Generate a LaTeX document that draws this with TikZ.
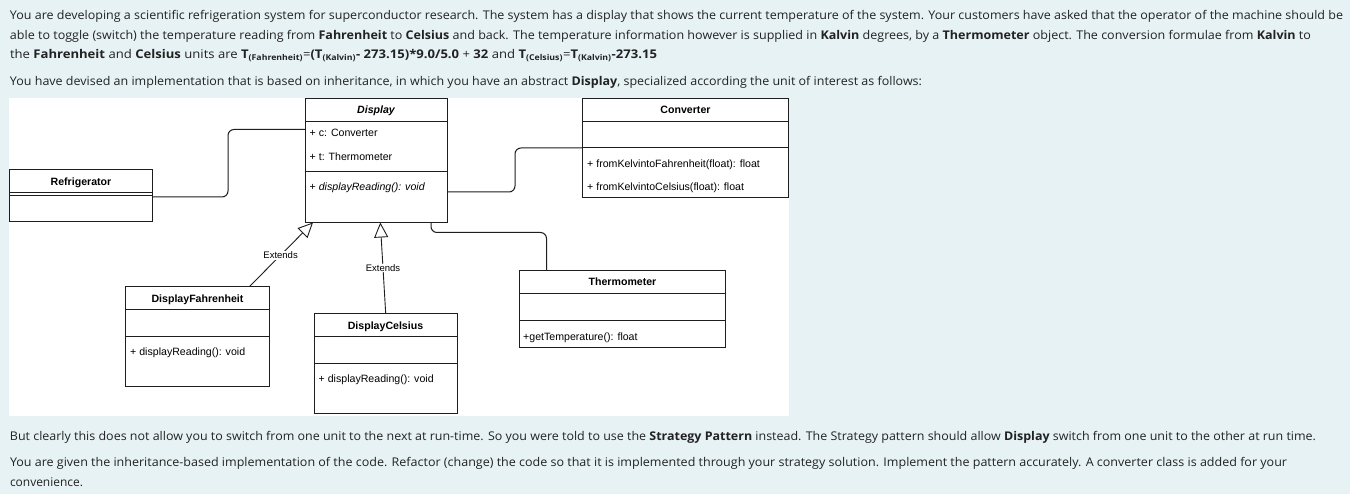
\documentclass[tikz,border=0pt]{standalone}
\usepackage{fontspec}
\usepackage{graphicx}
\setmainfont{Open Sans}
\newfontfamily\diagfont{Liberation Sans}
\usetikzlibrary{arrows.meta,calc}
\definecolor{pagebg}{RGB}{231,242,245}
\definecolor{txt}{RGB}{34,34,34}
\definecolor{linec}{RGB}{30,30,30}
\newcommand\fitline[2]{\resizebox{#1}{\height}{#2}}
\begin{document}
\begin{tikzpicture}[x=1pt,y=-1pt,
  para/.style={anchor=base west,inner sep=0,outer sep=0,text=txt,font=\fontsize{12}{14}\selectfont},
  umlbox/.style={draw=linec,line width=1pt,fill=white,anchor=north west,inner sep=0,outer sep=0},
  divider/.style={draw=linec,line width=1pt},
  ctitle/.style={anchor=base,inner sep=0,font=\diagfont\fontsize{10.6}{12}\selectfont\bfseries},
  cmember/.style={anchor=base west,inner sep=0,font=\diagfont\fontsize{10.6}{12}\selectfont},
  conn/.style={draw=linec,line width=1pt,rounded corners=6pt},
  ext/.style={draw=linec,line width=0.9pt,-{Triangle[length=15pt,width=14pt,fill=white]}},
  lbl/.style={fill=white,inner sep=1pt,font=\diagfont\fontsize{9.5}{11}\selectfont}
]
\fill[pagebg] (0,0) rectangle (1350,494);
\useasboundingbox (0,0) rectangle (1350,494);
\fill[white] (9,98) rectangle (789,416);

% paragraph text
\node[para] (l1) at (10,20) {\fitline{1333pt}{You are developing a scientific refrigeration system for superconductor research. The system has a display that shows the current temperature of the system. Your customers have asked that the operator of the machine should be}};
\node[para] (l2) at (10,40) {\fitline{1301pt}{able to toggle (switch) the temperature reading from \textbf{Fahrenheit} to \textbf{Celsius} and back. The temperature information however is supplied in \textbf{Kalvin} degrees, by a \textbf{Thermometer} object. The conversion formulae from \textbf{Kalvin} to}};
\node[para] (l3) at (10,59) {\fitline{647pt}{the \textbf{Fahrenheit} and \textbf{Celsius} units are \textbf{T\textsubscript{(Fahrenheit)}}=\textbf{(T\textsubscript{(Kalvin)}- 273.15)*9.0/5.0} + \textbf{32} and \textbf{T\textsubscript{(Celsius)}}=\textbf{T\textsubscript{(Kalvin)}-273.15}}};
\node[para] (l4) at (10,86) {\fitline{912pt}{You have devised an implementation that is based on inheritance, in which you have an abstract \textbf{Display}, specialized according the unit of interest as follows:}};
\node[para] (l5) at (10,440) {\fitline{1306pt}{But clearly this does not allow you to switch from one unit to the next at run-time. So you were told to use the \textbf{Strategy Pattern} instead. The Strategy pattern should allow \textbf{Display} switch from one unit to the other at run time.}};
\node[para] (l6) at (10,466) {\fitline{1277pt}{You are given the inheritance-based implementation of the code. Refactor (change) the code so that it is implemented through your strategy solution. Implement the pattern accurately. A converter class is added for your}};
\node[para] (l7) at (10,486) {\fitline{73pt}{convenience.}};

% class boxes
\node[umlbox,minimum width=143pt,minimum height=52pt] (refr) at (9.5,170) {};
\node[umlbox,minimum width=142.5pt,minimum height=124pt] (disp) at (305,98.5) {};
\node[umlbox,minimum width=205.5pt,minimum height=99.5pt] (conv) at (582.5,98.5) {};
\node[umlbox,minimum width=144pt,minimum height=100pt] (df) at (125.5,286.5) {};
\node[umlbox,minimum width=143pt,minimum height=100pt] (dc) at (314,313.5) {};
\node[umlbox,minimum width=206pt,minimum height=77pt] (th) at (519.5,270.5) {};

% dividers
\draw[divider] (refr.west |- 0,193) -- (refr.east |- 0,193);
\draw[divider] (refr.west |- 0,195.5) -- (refr.east |- 0,195.5);
\draw[divider] (disp.west |- 0,122) -- (disp.east |- 0,122);
\draw[divider] (disp.west |- 0,172) -- (disp.east |- 0,172);
\draw[divider] (conv.west |- 0,121.5) -- (conv.east |- 0,121.5);
\draw[divider] (conv.west |- 0,148) -- (conv.east |- 0,148);
\draw[divider] (df.west |- 0,309.5) -- (df.east |- 0,309.5);
\draw[divider] (df.west |- 0,336.5) -- (df.east |- 0,336.5);
\draw[divider] (dc.west |- 0,336.5) -- (dc.east |- 0,336.5);
\draw[divider] (dc.west |- 0,363.5) -- (dc.east |- 0,363.5);
\draw[divider] (th.west |- 0,293.5) -- (th.east |- 0,293.5);
\draw[divider] (th.west |- 0,320.5) -- (th.east |- 0,320.5);

% texts
\node[ctitle] (refrT) at (81,185.8) {Refrigerator};
\node[ctitle] (dispT) at (376,113.8) {\itshape Display};
\node[cmember] (dispA1) at (309.5,136.8) {+ c: Converter};
\node[cmember] (dispA2) at (309.5,160.8) {+ t: Thermometer};
\node[cmember] (dispM1) at (309.5,190.6) {+ \itshape displayReading(): void};
\node[ctitle] (convT) at (685.5,113.8) {Converter};
\node[cmember] (convM1) at (587,168) {+ fromKelvintoFahrenheit(float): float};
\node[cmember] (convM2) at (587,190.8) {+ fromKelvintoCelsius(float): float};
\node[ctitle] (dfT) at (197.5,302.8) {DisplayFahrenheit};
\node[cmember] (dfM1) at (130,355.8) {+ displayReading(): void};
\node[ctitle] (dcT) at (385.5,329.5) {DisplayCelsius};
\node[cmember] (dcM1) at (318.5,382.8) {+ displayReading(): void};
\node[ctitle] (thT) at (622.5,286) {Thermometer};
\node[cmember] (thM1) at (523,340.5) {+getTemperature(): float};

% connectors
\draw[conn] (refr.east |- 0,197) -| (228,129.5) -- (disp.west |- 0,129.5);
\draw[conn] (disp.east |- 0,192) -| (515,148) -- (conv.west |- 0,148);
\draw[conn] (431,0 |- disp.south) |- (546.5,232.5) -- (546.5,0 |- th.north);

% generalisations
\draw[ext] (249.5,0 |- df.north) -- node[lbl,pos=0.49] (lblF) {Extends} (313,0 |- disp.south);
\draw[ext] (385.7,0 |- dc.north) -- node[lbl,pos=0.5] (lblC) {Extends} (380.3,0 |- disp.south);
\end{tikzpicture}
\end{document}
